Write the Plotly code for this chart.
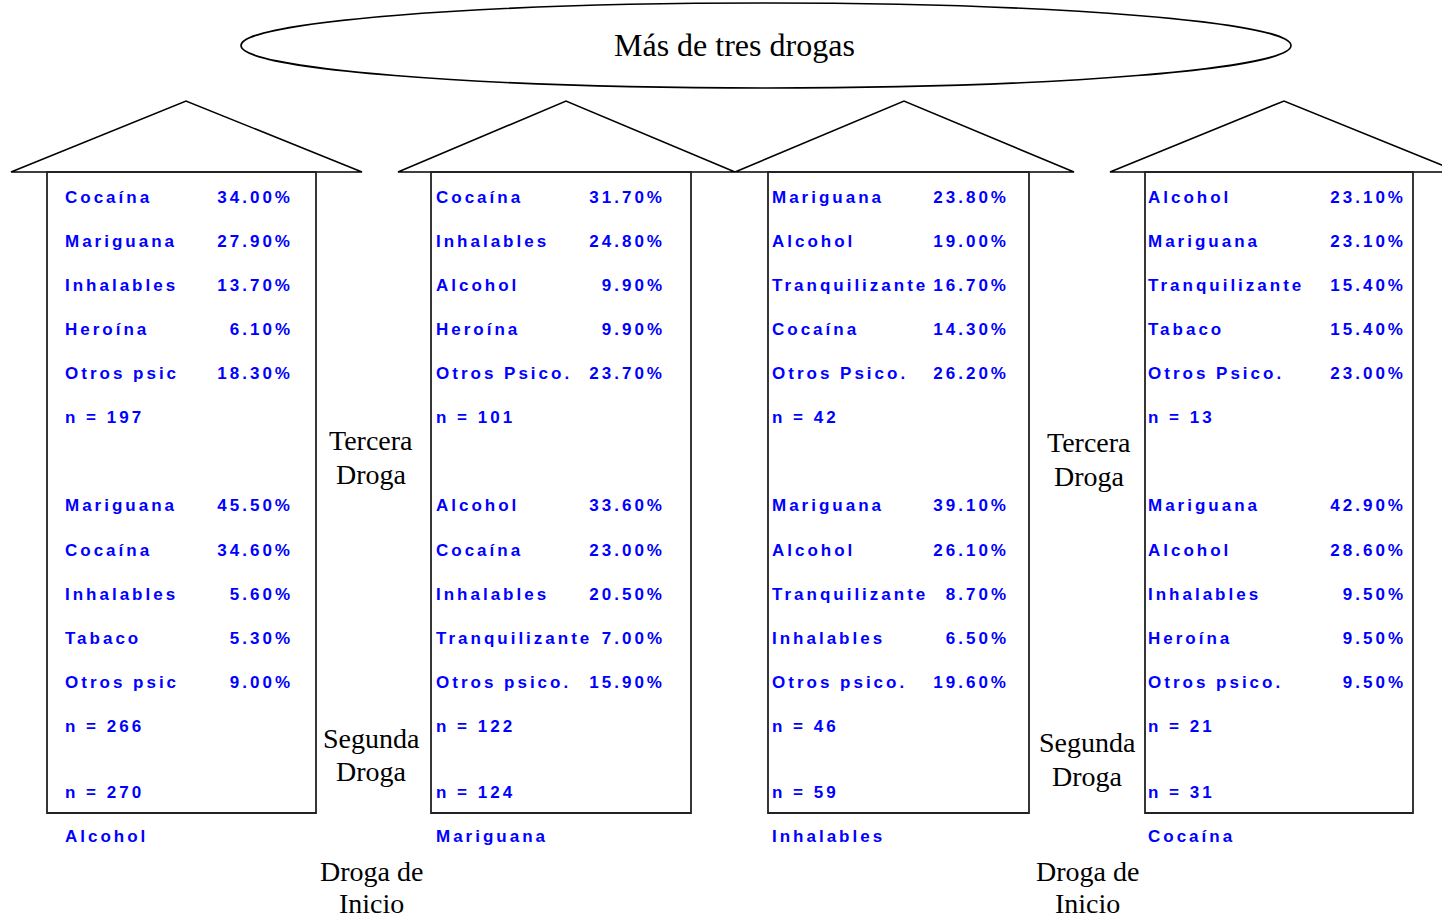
import plotly.graph_objects as go

# ---------------- data ----------------
title_text = "Más de tres drogas"
initial_drugs = ["Alcohol", "Mariguana", "Inhalables", "Cocaína"]
n_initial = [270, 124, 59, 31]

second_names = [
    ["Mariguana", "Cocaína", "Inhalables", "Tabaco", "Otros psic"],
    ["Alcohol", "Cocaína", "Inhalables", "Tranquilizante", "Otros psico."],
    ["Mariguana", "Alcohol", "Tranquilizante", "Inhalables", "Otros psico."],
    ["Mariguana", "Alcohol", "Inhalables", "Heroína", "Otros psico."],
]
second_pcts = [
    [45.50, 34.60, 5.60, 5.30, 9.00],
    [33.60, 23.00, 20.50, 7.00, 15.90],
    [39.10, 26.10, 8.70, 6.50, 19.60],
    [42.90, 28.60, 9.50, 9.50, 9.50],
]
n_second = [266, 122, 46, 21]

third_names = [
    ["Cocaína", "Mariguana", "Inhalables", "Heroína", "Otros psic"],
    ["Cocaína", "Inhalables", "Alcohol", "Heroína", "Otros Psico."],
    ["Mariguana", "Alcohol", "Tranquilizante", "Cocaína", "Otros Psico."],
    ["Alcohol", "Mariguana", "Tranquilizante", "Tabaco", "Otros Psico."],
]
third_pcts = [
    [34.00, 27.90, 13.70, 6.10, 18.30],
    [31.70, 24.80, 9.90, 9.90, 23.70],
    [23.80, 19.00, 16.70, 14.30, 26.20],
    [23.10, 23.10, 15.40, 15.40, 23.00],
]
n_third = [197, 101, 42, 13]

side_labels = [["Tercera", "Droga"], ["Segunda", "Droga"], ["Droga de", "Inicio"]]

# ---------------- layout geometry ----------------
W, H = 1442, 920
roofs = [(11, 362, 186), (398, 735, 566), (735, 1074, 904), (1110, 1459, 1284)]
boxes = [(47, 316), (431, 691), (768, 1029), (1145, 1413)]
name_x = [65, 436, 772, 1148]
pct_x = [293, 665, 1009, 1406]
roof_top, roof_base, box_bottom = 101, 172, 813
third_rows = [197, 241, 285, 329, 373]
third_n_row = 417
second_rows = [505, 550, 594, 638, 682]
second_n_row = 726
initial_n_row = 792
initial_row = 836
side_pos = [
    [(371, 440, 474), (371, 738, 771), (371, 871, 903)],
    [(1089, 442, 476), (1087, 742, 776), (1087, 871, 903)],
]

BLUE = "#0000ff"
SANS = "Liberation Sans, Arial, sans-serif"
SERIF = "Liberation Serif, Times New Roman, serif"

shapes = []
for (x0, x1, xa), (bx0, bx1) in zip(roofs, boxes):
    shapes.append(dict(type="path",
                       path=f"M {x0},{roof_base} L {xa},{roof_top} L {x1},{roof_base} Z",
                       line=dict(color="black", width=1.6), fillcolor="rgba(0,0,0,0)"))
    shapes.append(dict(type="rect", x0=bx0, x1=bx1, y0=roof_base, y1=box_bottom,
                       line=dict(color="#222", width=1.8), fillcolor="rgba(0,0,0,0)"))
shapes.append(dict(type="circle", x0=241, x1=1291, y0=3, y1=88,
                   line=dict(color="black", width=1.6)))
for s in shapes:
    s.update(xref="x", yref="y", layer="below")

nx, ny, nt = [], [], []
px, py, pt = [], [], []
for c in range(4):
    for name, v, y in zip(third_names[c], third_pcts[c], third_rows):
        nx.append(name_x[c]); ny.append(y); nt.append(name)
        px.append(pct_x[c]); py.append(y); pt.append(f"{v:.2f}%")
    nx.append(name_x[c]); ny.append(third_n_row); nt.append(f"n = {n_third[c]}")
    for name, v, y in zip(second_names[c], second_pcts[c], second_rows):
        nx.append(name_x[c]); ny.append(y); nt.append(name)
        px.append(pct_x[c]); py.append(y); pt.append(f"{v:.2f}%")
    nx.append(name_x[c]); ny.append(second_n_row); nt.append(f"n = {n_second[c]}")
    nx.append(name_x[c]); ny.append(initial_n_row); nt.append(f"n = {n_initial[c]}")
    nx.append(name_x[c]); ny.append(initial_row); nt.append(initial_drugs[c])

# small vertical offset so glyph centres sit on the row positions
dy = 2
fig = go.Figure()
fig.add_trace(go.Scatter(x=nx, y=[v + dy for v in ny], text=nt, mode="text",
                         textposition="middle right",
                         textfont=dict(family=SANS, size=17, color=BLUE, weight="bold"),
                         hoverinfo="skip", showlegend=False))
fig.add_trace(go.Scatter(x=px, y=[v + dy for v in py], text=pt, mode="text",
                         textposition="middle left",
                         textfont=dict(family=SANS, size=17, color=BLUE, weight="bold"),
                         hoverinfo="skip", showlegend=False))

annotations = [dict(x=734, y=45, text=title_text, showarrow=False,
                    font=dict(family=SERIF, size=32, color="black"),
                    xanchor="center", yanchor="middle")]
for group in side_pos:
    for lines, (x, y1, y2) in zip(side_labels, group):
        for txt, y in zip(lines, (y1, y2)):
            annotations.append(dict(x=x, y=y, text=txt, showarrow=False,
                                    font=dict(family=SERIF, size=28, color="black"),
                                    xanchor="center", yanchor="middle"))
for a in annotations:
    a.update(xref="x", yref="y")

fig.update_layout(
    width=W, height=H, margin=dict(l=0, r=0, t=0, b=0),
    paper_bgcolor="white", plot_bgcolor="white",
    xaxis=dict(range=[0, W], visible=False, fixedrange=True),
    yaxis=dict(range=[H, 0], visible=False, fixedrange=True),
    shapes=shapes, annotations=annotations, showlegend=False,
)

post = """
document.body.style.margin = '0';
document.body.style.overflow = 'hidden';
var gd = document.getElementById('{plot_id}');
function ls(){ gd.querySelectorAll('.textpoint text').forEach(function(t){ t.style.letterSpacing='3px'; t.style.fontWeight='bold'; }); }
ls();
if (gd.on) { gd.on('plotly_afterplot', ls); }
"""
fig.write_html("out.html", post_script=post, config={"displayModeBar": False})
